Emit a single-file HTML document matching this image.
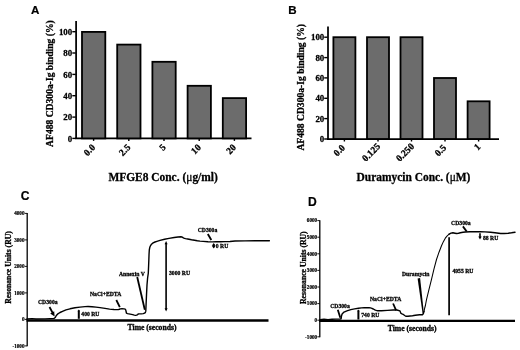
<!DOCTYPE html>
<html>
<head>
<meta charset="utf-8">
<style>
html,body{margin:0;padding:0;background:#fff;}
body{width:520px;height:350px;overflow:hidden;}
svg{display:block;position:absolute;left:0;top:0;will-change:transform;}
text{font-family:"Liberation Serif",serif;font-weight:bold;fill:#000;stroke:#000;stroke-width:0.28;}
.pl{font-family:"Liberation Sans",sans-serif;font-weight:bold;font-size:11.6px;stroke-width:0.2;}
.tk{font-size:8.9px;text-anchor:end;}
.yl{font-size:9.6px;text-anchor:middle;}
.xl{font-size:11.45px;text-anchor:middle;}
.xt{font-size:9.5px;text-anchor:end;}
.sm{font-size:5.7px;stroke:#000;stroke-width:0.26;}
.stk{font-size:5.15px;text-anchor:end;stroke:#000;stroke-width:0.2;}
.syl{font-size:7.7px;text-anchor:middle;stroke:#000;stroke-width:0.3;}
.sxl{font-size:7.65px;text-anchor:middle;stroke:#000;stroke-width:0.3;}
.bar{fill:#6c6c6c;stroke:#000;stroke-width:1.8;}
.ax{stroke:#000;stroke-width:1.75;fill:none;}
.cv{stroke:#000;stroke-width:1.4;fill:none;stroke-linejoin:round;stroke-linecap:round;}
.ar{stroke:#000;stroke-width:1.8;fill:none;}
</style>
</head>
<body>
<svg width="520" height="350" viewBox="0 0 520 350">
<rect width="520" height="350" fill="#fff"/>

<!-- ============ Panel A ============ -->
<text class="pl" x="31.1" y="13.6">A</text>
<g id="A">
  <line class="ax" x1="76.1" y1="21" x2="76.1" y2="139.1"/>
  <line class="ax" x1="75.1" y1="138.4" x2="251.5" y2="138.4"/>
  <g class="ax" style="stroke-width:1.4">
    <line x1="72.3" y1="31.7" x2="75.8" y2="31.7"/>
    <line x1="72.3" y1="53.0" x2="75.8" y2="53.0"/>
    <line x1="72.3" y1="74.4" x2="75.8" y2="74.4"/>
    <line x1="72.3" y1="95.7" x2="75.8" y2="95.7"/>
    <line x1="72.3" y1="117.1" x2="75.8" y2="117.1"/>
    <line x1="72.3" y1="138.4" x2="75.8" y2="138.4"/>
    <line x1="93.6" y1="138.4" x2="93.6" y2="140.9"/>
    <line x1="128.8" y1="138.4" x2="128.8" y2="140.9"/>
    <line x1="164.0" y1="138.4" x2="164.0" y2="140.9"/>
    <line x1="199.2" y1="138.4" x2="199.2" y2="140.9"/>
    <line x1="234.4" y1="138.4" x2="234.4" y2="140.9"/>
  </g>
  <rect class="bar" x="82.0" y="31.9" width="23.3" height="106.5"/>
  <rect class="bar" x="117.2" y="44.6" width="23.3" height="93.8"/>
  <rect class="bar" x="152.4" y="61.8" width="23.3" height="76.6"/>
  <rect class="bar" x="187.6" y="85.8" width="23.3" height="52.6"/>
  <rect class="bar" x="222.8" y="98.1" width="23.3" height="40.3"/>
  <text class="tk" x="72.2" y="34.8">100</text>
  <text class="tk" x="72.2" y="56.0">80</text>
  <text class="tk" x="72.2" y="77.5">60</text>
  <text class="tk" x="72.2" y="98.8">40</text>
  <text class="tk" x="72.2" y="120.2">20</text>
  <text class="tk" x="72.2" y="141.5">0</text>
  <text class="yl" transform="translate(52.9,83.6) rotate(-90)">AF488 CD300a-Ig binding (%)</text>
  <text class="xt" transform="translate(95.9,148) rotate(-45)">0.0</text>
  <text class="xt" transform="translate(131.1,148) rotate(-45)">2.5</text>
  <text class="xt" transform="translate(166.3,148) rotate(-45)">5</text>
  <text class="xt" transform="translate(201.5,148) rotate(-45)">10</text>
  <text class="xt" transform="translate(236.7,148) rotate(-45)">20</text>
  <text class="xl" x="163.1" y="180.6">MFGE8 Conc. (<tspan style="font-weight:normal">μ</tspan>g/ml)</text>
</g>

<!-- ============ Panel B ============ -->
<text class="pl" x="288.3" y="13.5">B</text>
<g id="B">
  <line class="ax" x1="328.0" y1="26.4" x2="328.0" y2="139.7"/>
  <line class="ax" x1="327" y1="139.0" x2="499" y2="139.0"/>
  <g class="ax" style="stroke-width:1.4">
    <line x1="324.2" y1="37.2" x2="327.7" y2="37.2"/>
    <line x1="324.2" y1="57.6" x2="327.7" y2="57.6"/>
    <line x1="324.2" y1="77.9" x2="327.7" y2="77.9"/>
    <line x1="324.2" y1="98.3" x2="327.7" y2="98.3"/>
    <line x1="324.2" y1="118.6" x2="327.7" y2="118.6"/>
    <line x1="324.2" y1="139.0" x2="327.7" y2="139.0"/>
    <line x1="344.4" y1="139.0" x2="344.4" y2="141.5"/>
    <line x1="378.0" y1="139.0" x2="378.0" y2="141.5"/>
    <line x1="411.5" y1="139.0" x2="411.5" y2="141.5"/>
    <line x1="445.0" y1="139.0" x2="445.0" y2="141.5"/>
    <line x1="478.6" y1="139.0" x2="478.6" y2="141.5"/>
  </g>
  <rect class="bar" x="333.4" y="37.2" width="22.0" height="101.8"/>
  <rect class="bar" x="367.0" y="37.2" width="22.0" height="101.8"/>
  <rect class="bar" x="400.5" y="37.2" width="22.0" height="101.8"/>
  <rect class="bar" x="434.0" y="78.0" width="22.0" height="61.0"/>
  <rect class="bar" x="467.6" y="101.3" width="22.0" height="37.7"/>
  <text class="tk" x="324.3" y="40.2">100</text>
  <text class="tk" x="324.3" y="60.6">80</text>
  <text class="tk" x="324.3" y="81.0">60</text>
  <text class="tk" x="324.3" y="101.4">40</text>
  <text class="tk" x="324.3" y="121.7">20</text>
  <text class="tk" x="324.3" y="142.1">0</text>
  <text class="yl" transform="translate(303.9,87.3) rotate(-90)">AF488 CD300a-Ig binding (%)</text>
  <text class="xt" transform="translate(345.7,148.3) rotate(-45)">0.0</text>
  <text class="xt" transform="translate(380.9,147.0) rotate(-45)">0.125</text>
  <text class="xt" transform="translate(414.8,147.0) rotate(-45)">0.250</text>
  <text class="xt" transform="translate(446.8,148.4) rotate(-45)">0.5</text>
  <text class="xt" transform="translate(481.0,147.4) rotate(-45)">1</text>
  <text class="xl" x="413.5" y="180.6">Duramycin Conc. (<tspan style="font-weight:normal">μ</tspan>M)</text>
</g>

<!-- ============ Panel C ============ -->
<text class="pl" style="font-size:12.1px" x="20.7" y="199.9">C</text>
<g id="C">
  <line class="ax" style="stroke-width:1.3" x1="27.2" y1="213" x2="27.2" y2="346.3"/>
  <line class="ax" style="stroke-width:2.3" x1="26.5" y1="320.5" x2="268.5" y2="320.5"/>
  <g class="ax" style="stroke-width:0.9">
    <line x1="24.7" y1="213.4" x2="27.2" y2="213.4"/>
    <line x1="24.7" y1="239.9" x2="27.2" y2="239.9"/>
    <line x1="24.7" y1="266.4" x2="27.2" y2="266.4"/>
    <line x1="24.7" y1="292.9" x2="27.2" y2="292.9"/>
    <line x1="24.7" y1="319.4" x2="27.2" y2="319.4"/>
    <line x1="24.7" y1="345.9" x2="27.2" y2="345.9"/>
  </g>
  <text class="stk" x="24.5" y="215.1">4000</text>
  <text class="stk" x="24.5" y="241.6">3000</text>
  <text class="stk" x="24.5" y="268.1">2000</text>
  <text class="stk" x="24.5" y="294.6">1000</text>
  <text class="stk" x="24.5" y="321.1">0</text>
  <text class="stk" x="24.5" y="347.6">-1000</text>
  <text class="syl" transform="translate(10.9,267.5) rotate(-90)">Resonance Units (RU)</text>
  <polyline class="cv" points="27,319 32,318.6 36,319 45,318.9 50,318.6 54,318.4 55.3,317.5 56.3,315.5 57.5,314.2 60,312.5 62.5,311.3 66,309.9 70,308.8 75,307.8 80,307.1 85,306.6 88,306.5 92,306.7 96,307.1 100,307.6 105,308.4 109.6,309.1 114,309.5 118.3,309.6 119.4,309.3 120.2,308.85 122,308.8 124,308.85 125.2,309.1 125.7,309.8 126.1,311.5 126.4,313.1 127.5,313.6 128.85,313.85 132.7,314.6 134.3,315.1 135.6,315.35 136.7,315.1 137.5,314.6 138.5,313.85 141.35,313.85 143.2,313.6 144.6,313.1 145.4,312.4 145.8,311.15 146.1,304 146.5,295 147,285 147.6,278 148.3,273.1 148.6,266 148.85,259.6 149.05,254 149.3,250 149.7,247.8 150.3,246.1 151.5,244.2 153.1,242.9 155,242 156.9,241.35 160,240.4 164.6,239.2 169,238.4 174.2,237.5 178,237 181,236.75 182.3,237.1 183,237.6 183.85,238.1 185.5,238.6 187.7,239 191.5,239.8 194.5,240.3 197.3,240.8 200,241.1 203.1,241.35 208,241.7 212.7,241.9 216,241.8 220.4,241.7 225,241.6 230,241.5 235,241 245,240.9 255,240.8 262,240.8 269.4,240.7"/>
  <!-- annotations -->
  <text class="sm" x="38" y="303.8">CD300a</text>
  <line class="ar" x1="49.5" y1="307" x2="52.8" y2="313.2"/>
  <polygon points="54.6,316.6 50.2,313.4 54.2,311.2"/>
  <line class="ar" style="stroke-width:2" x1="78.8" y1="310.6" x2="78.8" y2="318.8"/>
  <polygon points="78.8,309.4 77.5,311.2 80.1,311.2"/>
  <text class="sm" x="81.3" y="316.3">400 RU</text>
  <text class="sm" x="90" y="296">NaCl+EDTA</text>
  <line class="ar" x1="116.3" y1="300" x2="119.8" y2="307.2"/>
  <text class="sm" x="118.9" y="275.5">Annexin V</text>
  <line class="ar" x1="137.2" y1="277" x2="144.8" y2="309.8"/>
  <line class="ar" style="stroke-width:1.6" x1="166.1" y1="243" x2="166.1" y2="309.5"/>
  <polygon points="166.1,241 164.6,244.2 167.6,244.2"/>
  <polygon points="166.1,311.5 164.6,308.3 167.6,308.3"/>
  <text class="sm" x="169" y="275.2">3000 RU</text>
  <text class="sm" x="197.7" y="231.5">CD300a</text>
  <line class="ar" x1="207.8" y1="234" x2="211.3" y2="240"/>
  <line class="ar" style="stroke-width:1.6" x1="213.7" y1="244.2" x2="213.7" y2="247.4"/>
  <polygon points="213.7,243 211.9,245.8 215.5,245.8"/>
  <polygon points="213.7,248.6 211.9,245.8 215.5,245.8"/>
  <text class="sm" x="215.8" y="247.8">0 RU</text>
  <text class="sxl" x="152" y="330.3">Time (seconds)</text>
</g>

<!-- ============ Panel D ============ -->
<text class="pl" style="font-size:12.1px" x="307.9" y="205.8">D</text>
<g id="D">
  <line class="ax" style="stroke-width:1.3" x1="319.8" y1="220.2" x2="319.8" y2="337.2"/>
  <line class="ax" style="stroke-width:2.3" x1="319.1" y1="320.9" x2="515" y2="320.9"/>
  <g class="ax" style="stroke-width:0.9">
    <line x1="317.3" y1="220.6" x2="319.8" y2="220.6"/>
    <line x1="317.3" y1="237.2" x2="319.8" y2="237.2"/>
    <line x1="317.3" y1="253.8" x2="319.8" y2="253.8"/>
    <line x1="317.3" y1="270.4" x2="319.8" y2="270.4"/>
    <line x1="317.3" y1="287.0" x2="319.8" y2="287.0"/>
    <line x1="317.3" y1="303.6" x2="319.8" y2="303.6"/>
    <line x1="317.3" y1="320.2" x2="319.8" y2="320.2"/>
    <line x1="317.3" y1="336.8" x2="319.8" y2="336.8"/>
  </g>
  <text class="stk" x="317.1" y="222.3">6000</text>
  <text class="stk" x="317.1" y="238.9">5000</text>
  <text class="stk" x="317.1" y="255.5">4000</text>
  <text class="stk" x="317.1" y="272.1">3000</text>
  <text class="stk" x="317.1" y="288.7">2000</text>
  <text class="stk" x="317.1" y="305.3">1000</text>
  <text class="stk" x="317.1" y="321.9">0</text>
  <text class="stk" x="317.1" y="338.5">-1000</text>
  <text class="syl" transform="translate(306.1,267.7) rotate(-90)">Resonance Units (RU)</text>
  <polyline class="cv" points="320,319.6 324,319.2 328,319.6 332,319.3 336,319.1 340,319 341.1,318.8 341.5,316 342.1,314 344,312.1 346.9,310.8 350.8,309.6 354.6,308.85 358.5,308.3 361.5,307.9 364.2,307.7 369,307.7 370.5,307.9 371.9,308.3 373.3,309 374.8,309.8 376.2,310.4 377.7,310.8 381.5,310.8 387.3,310.4 393.1,310 396.9,310 399.9,310.9 400.5,312.2 401,313.4 402,313.9 403.1,314.3 404.6,315.5 406.1,316.3 408,316.3 410,316 412.5,315.7 415.3,315.3 419.6,314.8 422.4,314.7 423.3,313.8 424,311.5"/>
  <polyline class="cv" style="stroke-width:1.05" points="424,311.5 424.6,308.5 425.4,305.5 426.5,299.7 429,289.3 431.5,279.3 434,268.8 436.5,259.5 439,252.2 441.5,245.8 443.5,241.4 445.3,238.2 447.2,235.8 449.1,234.2"/>
  <polyline class="cv" points="449.1,234.2 451,233.1 452.9,232.8 455,233.2 456.6,233.5 458.5,233.2 460.4,232.7 463,232.3 465.4,232 470,231.8 475.5,231.7 480,231.7 485,231.9 490.6,232.2 495,232.7 500.6,233.5 504,233.5 508.2,233.2 511.5,232.8 515,232.2"/>
  <text class="sm" x="330.2" y="307.8">CD300a</text>
  <line class="ar" x1="337.8" y1="309.8" x2="340.3" y2="317.8"/>
  <line class="ar" style="stroke-width:2" x1="358.4" y1="310.6" x2="358.4" y2="319.5"/>
  <polygon points="358.4,309.4 357.1,311.2 359.7,311.2"/>
  <text class="sm" x="361.2" y="316.6">740 RU</text>
  <text class="sm" x="370" y="301">NaCl+EDTA</text>
  <line class="ar" x1="393.1" y1="303.5" x2="396.1" y2="310.3"/>
  <text class="sm" x="402" y="275.6">Duramycin</text>
  <polygon points="417.6,278.5 420.1,278.1 423.9,313.3 422.6,313.6"/>
  <line class="ar" style="stroke-width:1.7" x1="449.1" y1="237.2" x2="449.1" y2="315.3"/>
  <text class="sm" x="452.4" y="273.4">4955 RU</text>
  <text class="sm" x="451.1" y="225.1">CD300a</text>
  <line class="ar" x1="462.9" y1="226.4" x2="466.7" y2="231.5"/>
  <line class="ar" style="stroke-width:1.6" x1="480" y1="233.3" x2="480" y2="237.5"/>
  <polygon points="480,239.5 478.3,236.4 481.7,236.4"/>
  <text class="sm" x="483" y="239.5">88 RU</text>
  <text class="sxl" x="412.2" y="331.2">Time (seconds)</text>
</g>
</svg>
</body>
</html>
